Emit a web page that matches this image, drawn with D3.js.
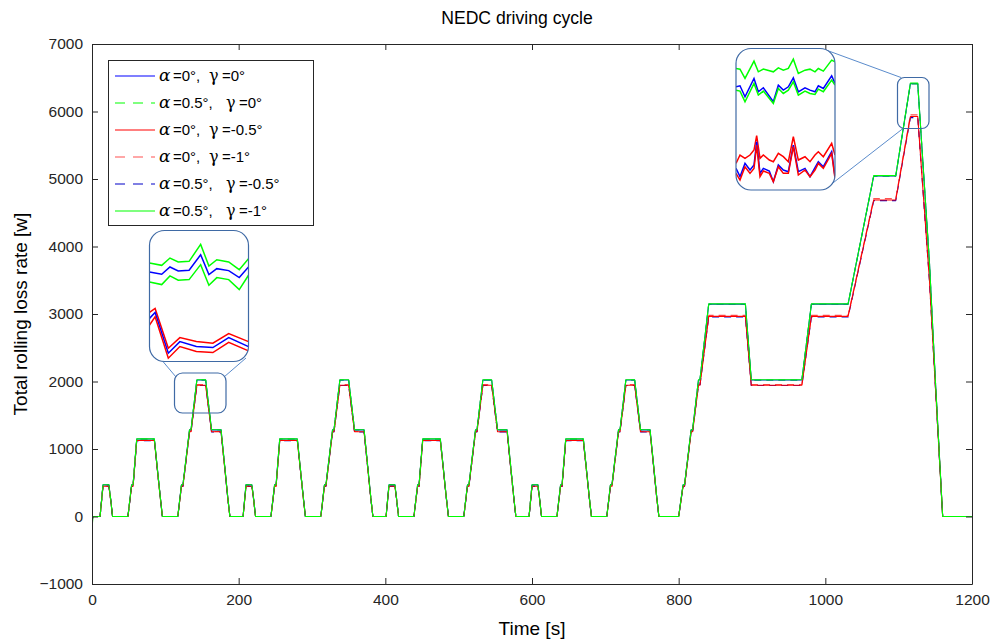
<!DOCTYPE html>
<html>
<head>
<meta charset="utf-8">
<script src="https://cdn.jsdelivr.net/npm/d3@7"></script>
<style>
  html, body { margin: 0; padding: 0; background: #fff; }
  svg { display: block; font-family: "Liberation Sans", Arial, sans-serif; }
</style>
</head>
<body>
<svg id="chart" width="996" height="642"></svg>
<script>
// ---------------- DATA ----------------
const titleText = "NEDC driving cycle";
const xLabel = "Time [s]";
const yLabel = "Total rolling loss rate [w]";
const xTicks = [0, 200, 400, 600, 800, 1000, 1200];
const yTicks = [-1000, 0, 1000, 2000, 3000, 4000, 5000, 6000, 7000];

// NEDC speed profile breakpoints (urban ECE part, repeated 4x, then EUDC)
const eceTimes  = [0, 11, 15, 23, 25, 28, 49, 54, 56, 61, 85, 93, 96, 117, 122, 124, 133, 135, 143, 155, 163, 176, 185, 188];
const eceSpeeds = [0, 0, 15, 15, 10, 0, 0, 15, 15, 32, 32, 10, 0, 0, 15, 15, 35, 35, 50, 50, 35, 35, 10, 0];
const eceStarts = [0, 195, 390, 585];
const eudcTimes  = [780, 800, 806, 808, 817, 819, 827, 829, 841, 891, 899, 968, 981, 1031, 1066, 1096, 1116, 1126, 1142, 1150, 1160, 1200];
const eudcSpeeds = [0, 0, 15, 15, 35, 35, 50, 50, 70, 70, 50, 50, 70, 70, 100, 100, 120, 120, 80, 50, 0, 0];

// rolling loss rate [W] read at each speed level [km/h]
const speedLevels = [0, 10, 15, 32, 35, 50, 70, 80, 100, 120];
const lossA0G0     = [0, 300, 469, 1148, 1283, 2022, 3146, 3755, 5045, 6413];
const lossA05G0    = [0, 299, 468, 1147, 1282, 2020, 3144, 3752, 5040, 6408];
const lossA0Gm05   = [0, 288, 448, 1125, 1255, 1945, 2965, 3500, 4690, 5925];
const lossA0Gm1    = [0, 289, 450, 1130, 1260, 1955, 2980, 3520, 4710, 5950];
const lossA05Gm05  = [0, 287, 446, 1122, 1252, 1940, 2955, 3490, 4680, 5910];
const lossA05Gm1   = [0, 300, 470, 1150, 1285, 2025, 3150, 3760, 5050, 6420];
const startValues  = [-120, -250, -100, -110, -90, -270];

const seriesNames  = ["α0γ0", "α05γ0", "α0γm05", "α0γm1", "α05γm05", "α05γm1"];
const seriesAlpha  = ["0", "0.5", "0", "0", "0.5", "0.5"];
const seriesGamma  = ["0", "0", "-0.5", "-1", "-0.5", "-1"];
const seriesColors = ["#0000ff", "#00ff00", "#ff0000", "#ff5050", "#0000c8", "#00ff00"];
const seriesDashed = [false, true, false, true, true, false];
const seriesLoss   = [lossA0G0, lossA05G0, lossA0Gm05, lossA0Gm1, lossA05Gm05, lossA05Gm1];
const drawOrder    = [1, 3, 4, 0, 2, 5];

// magnified inset near t≈150 s (relative units)
const in1UpperX = [28, 65, 90, 115, 148, 183, 208, 232, 268, 300, 328];
const in1GreenTop = [113, 120, 98, 110, 108, 57, 122, 103, 110, 133, 100];
const in1BlueMid  = [140, 147, 125, 137, 135, 88, 148, 130, 136, 157, 125];
const in1GreenLow = [170, 178, 152, 165, 163, 118, 180, 157, 163, 193, 150];
const in1LowerX = [28, 45, 85, 120, 170, 220, 268, 328];
const in1RedTop = [262, 250, 370, 338, 350, 355, 326, 350];
const in1BlueLow = [280, 262, 385, 350, 365, 368, 338, 365];
const in1RedLow = [300, 275, 400, 365, 380, 383, 352, 378];

// magnified inset near t≈1120 s
const in2UpperX = [18, 30, 45, 72, 85, 100, 130, 145, 160, 175, 190, 205, 225, 240, 255, 265, 280, 305, 315];
const in2GreenTop = [70, 72, 100, 48, 80, 72, 80, 68, 75, 70, 42, 85, 75, 72, 80, 70, 78, 45, 50];
const in2BlueMid  = [125, 122, 155, 100, 140, 128, 170, 120, 135, 125, 98, 140, 128, 135, 140, 122, 130, 92, 115];
const in2GreenLow = [135, 138, 170, 115, 150, 138, 175, 130, 145, 135, 110, 150, 138, 145, 148, 132, 140, 105, 120];
const in2LowerX = [18, 30, 45, 60, 72, 80, 90, 100, 118, 130, 145, 160, 175, 190, 205, 225, 240, 255, 265, 280, 305, 315];
const in2RedTop  = [355, 330, 340, 330, 315, 272, 340, 330, 345, 350, 325, 335, 350, 275, 345, 335, 350, 330, 320, 335, 295, 330];
const in2BlueLow = [370, 395, 355, 375, 360, 290, 385, 370, 378, 410, 360, 375, 380, 300, 380, 370, 395, 368, 350, 365, 320, 395];
const in2RedLow  = [385, 405, 365, 385, 370, 300, 395, 378, 385, 410, 365, 385, 385, 305, 390, 375, 395, 375, 355, 370, 325, 400];

// ---------------- CHART ----------------
const svg = d3.select("#chart");
const L = 92, R = 972, T = 44, B = 584;
const x = d3.scaleLinear().domain([0, 1200]).range([L, R]);
const y = d3.scaleLinear().domain([-1000, 7000]).range([B, T]);
const axisColor = "#262626";

// profile
const profT = [], profS = [];
eceStarts.forEach(s => eceTimes.forEach((t, i) => { profT.push(s + t); profS.push(eceSpeeds[i]); }));
eudcTimes.forEach((t, i) => { profT.push(t); profS.push(eudcSpeeds[i]); });

svg.append("defs").append("clipPath").attr("id", "plotClip")
  .append("rect").attr("x", L).attr("y", T).attr("width", R - L).attr("height", B - T);

const line = d3.line().x(d => x(d.t)).y(d => y(d.v));
const plotG = svg.append("g").attr("clip-path", "url(#plotClip)");
drawOrder.forEach(k => {
  const loss = seriesLoss[k];
  const pts = profT.map((t, i) => ({ t, v: loss[speedLevels.indexOf(profS[i])] }));
  pts[0].v = startValues[k];
  pts.splice(1, 0, { t: 1, v: 0 });
  plotG.append("path").datum(pts)
    .attr("d", line).attr("fill", "none")
    .attr("stroke", seriesColors[k]).attr("stroke-width", 1.1)
    .attr("stroke-dasharray", seriesDashed[k] ? "7,5" : null)
    .attr("stroke-linejoin", "round");
});

// axes (box with inward ticks)
function styleAxis(g) {
  g.select(".domain").attr("stroke", axisColor);
  g.selectAll(".tick line").attr("stroke", axisColor);
  g.selectAll(".tick text").attr("fill", axisColor).attr("font-size", 15.5)
    .attr("font-family", "'Liberation Sans', Arial, sans-serif");
}
svg.append("g").attr("transform", `translate(0,${B})`)
  .call(d3.axisBottom(x).tickValues(xTicks).tickSizeInner(-6).tickSizeOuter(0).tickPadding(10).tickFormat(d3.format("d")))
  .call(styleAxis);
svg.append("g").attr("transform", `translate(0,${T})`)
  .call(d3.axisTop(x).tickValues(xTicks).tickSizeInner(-6).tickSizeOuter(0).tickFormat(""))
  .call(styleAxis);
svg.append("g").attr("transform", `translate(${L},0)`)
  .call(d3.axisLeft(y).tickValues(yTicks).tickSizeInner(-6).tickSizeOuter(0).tickPadding(9).tickFormat(d3.format("d")))
  .call(styleAxis);
svg.append("g").attr("transform", `translate(${R},0)`)
  .call(d3.axisRight(y).tickValues(yTicks).tickSizeInner(-6).tickSizeOuter(0).tickFormat(""))
  .call(styleAxis);

// titles
svg.append("text").attr("x", 517).attr("y", 24).attr("text-anchor", "middle")
  .attr("font-size", 17.6).attr("fill", "#000").text(titleText);
svg.append("text").attr("x", (L + R) / 2).attr("y", 635).attr("text-anchor", "middle")
  .attr("font-size", 19).attr("fill", "#000").text(xLabel);
svg.append("text").attr("transform", `translate(27,${(T + B) / 2}) rotate(-90)`).attr("text-anchor", "middle")
  .attr("font-size", 19).attr("fill", "#000").text(yLabel);

// legend
const lg = svg.append("g");
lg.append("rect").attr("x", 108.5).attr("y", 60.5).attr("width", 205).attr("height", 165)
  .attr("fill", "#fff").attr("stroke", axisColor).attr("stroke-width", 1);
seriesNames.forEach((n, k) => {
  const yy = 76 + k * 27;
  lg.append("line").attr("x1", 115).attr("x2", 155).attr("y1", yy).attr("y2", yy)
    .attr("stroke", seriesColors[k]).attr("stroke-width", 1.2)
    .attr("stroke-dasharray", seriesDashed[k] ? "10,8" : null);
  const tx = lg.append("text").attr("y", yy + 5).attr("font-size", 15).attr("fill", "#000");
  tx.append("tspan").attr("x", 159).attr("font-family", "'DejaVu Serif', 'Liberation Serif', serif")
    .attr("font-style", "italic").attr("font-size", 17).text("α");
  tx.append("tspan").attr("x", 173).text("=" + seriesAlpha[k] + "°,");
  const gx = seriesAlpha[k] === "0" ? 209 : 226;
  tx.append("tspan").attr("x", gx).attr("font-family", "'DejaVu Serif', 'Liberation Serif', serif")
    .attr("font-size", 16).text("γ");
  tx.append("tspan").attr("x", gx + 13).text("=" + seriesGamma[k] + "°");
});

// insets
const boxStroke = "#3f6aa5", connStroke = "#5b8ccc";
function drawInset(id, box, small, conns, xDom, yDom, upperX, uppers, lowerX, lowers) {
  svg.append("defs").append("clipPath").attr("id", id)
    .append("rect").attr("x", box.x).attr("y", box.y).attr("width", box.w).attr("height", box.h).attr("rx", box.r);
  conns.forEach(c => svg.append("line").attr("x1", c[0]).attr("y1", c[1]).attr("x2", c[2]).attr("y2", c[3])
    .attr("stroke", connStroke).attr("stroke-width", 1));
  svg.append("rect").attr("x", box.x).attr("y", box.y).attr("width", box.w).attr("height", box.h).attr("rx", box.r)
    .attr("fill", "#fff");
  const sx = d3.scaleLinear().domain(xDom).range([box.x, box.x + box.w]);
  const sy = d3.scaleLinear().domain(yDom).range([box.y, box.y + box.h]);
  const g = svg.append("g").attr("clip-path", `url(#${id})`);
  const ln = d3.line().x(d => sx(d[0])).y(d => sy(d[1]));
  uppers.forEach(([vals, col]) => g.append("path").datum(upperX.map((xx, i) => [xx, vals[i]]))
    .attr("d", ln).attr("fill", "none").attr("stroke", col).attr("stroke-width", 1.5));
  lowers.forEach(([vals, col]) => g.append("path").datum(lowerX.map((xx, i) => [xx, vals[i]]))
    .attr("d", ln).attr("fill", "none").attr("stroke", col).attr("stroke-width", 1.5));
  svg.append("rect").attr("x", box.x).attr("y", box.y).attr("width", box.w).attr("height", box.h).attr("rx", box.r)
    .attr("fill", "none").attr("stroke", boxStroke).attr("stroke-width", 1.2);
  svg.append("rect").attr("x", small.x).attr("y", small.y).attr("width", small.w).attr("height", small.h).attr("rx", small.r)
    .attr("fill", "none").attr("stroke", boxStroke).attr("stroke-width", 1.2);
}
drawInset("in1", { x: 149.5, y: 230.5, w: 99, h: 131, r: 15 }, { x: 174.5, y: 373, w: 51.5, h: 40, r: 8 },
  [[160, 358, 176, 377], [246, 358, 224, 377]],
  [28, 328], [15, 410],
  in1UpperX, [[in1GreenTop, "#00ff00"], [in1BlueMid, "#0000ff"], [in1GreenLow, "#00ff00"]],
  in1LowerX, [[in1RedTop, "#ff0000"], [in1BlueLow, "#0000ff"], [in1RedLow, "#ff0000"]]);
drawInset("in2", { x: 736, y: 48.5, w: 99, h: 141.5, r: 15 }, { x: 897.5, y: 77.5, w: 31.5, h: 51, r: 7 },
  [[826, 50, 901, 77.5], [829, 186, 903, 128.5]],
  [18, 315], [10, 435],
  in2UpperX, [[in2GreenTop, "#00ff00"], [in2BlueMid, "#0000ff"], [in2GreenLow, "#00ff00"]],
  in2LowerX, [[in2RedTop, "#ff0000"], [in2BlueLow, "#0000ff"], [in2RedLow, "#ff0000"]]);
</script>
</body>
</html>
